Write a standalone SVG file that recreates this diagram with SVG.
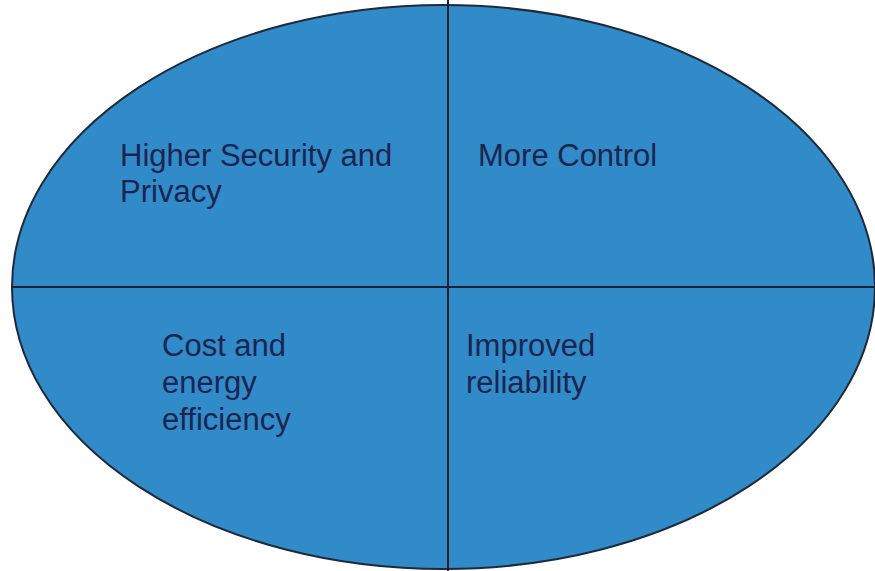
<svg xmlns="http://www.w3.org/2000/svg" width="875" height="571" viewBox="0 0 875 571">
<style>
.lbl{font-family:"Liberation Sans",Arial,sans-serif;font-size:31px;fill:#1b2550}
.ln{stroke:#1a2230;stroke-width:2;fill:none}
</style>
<rect width="875" height="571" fill="#ffffff"/>
<g id="ellipse">
<ellipse cx="443.5" cy="287" rx="431.5" ry="282" fill="#318bc9" stroke="#1e2a3a" stroke-width="2"/>
</g>
<g id="dividers">
<line class="ln" x1="448" y1="0" x2="448" y2="571"/>
<line class="ln" x1="12" y1="287" x2="875" y2="287"/>
</g>
<g id="q1"><text class="lbl" x="120" y="166">Higher Security and</text><text class="lbl" x="120" y="202">Privacy</text></g>
<g id="q2"><text class="lbl" x="478" y="166">More Control</text></g>
<g id="q3"><text class="lbl" x="162" y="356">Cost and</text><text class="lbl" x="162" y="393">energy</text><text class="lbl" x="162" y="430">efficiency</text></g>
<g id="q4"><text class="lbl" x="466" y="356">Improved</text><text class="lbl" x="466" y="393">reliability</text></g>
</svg>
